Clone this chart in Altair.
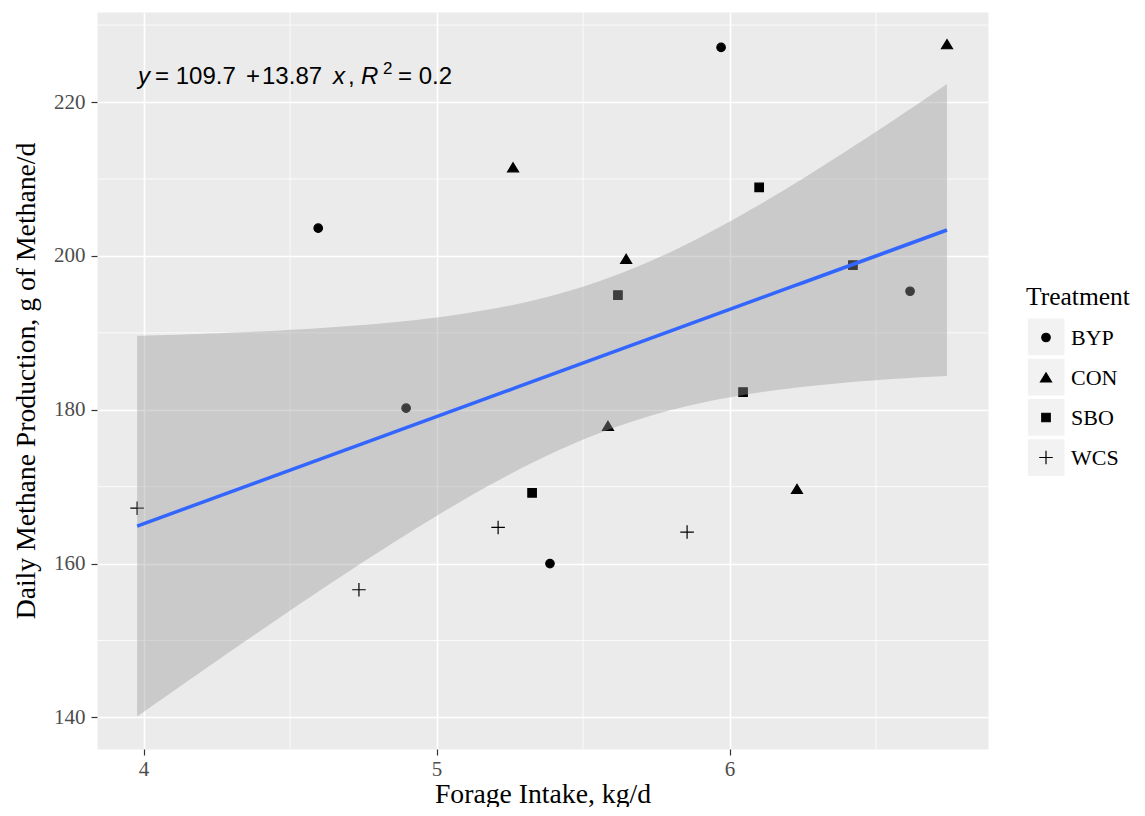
import numpy as np
import pandas as pd
import altair as alt

# ---- data ----
treatment = ["BYP"] * 5 + ["CON"] * 5 + ["SBO"] * 5 + ["WCS"] * 4
forage = [4.596, 5.971, 4.896, 5.387, 6.616,
          5.261, 5.647, 6.742, 5.585, 6.230,
          6.101, 5.619, 6.421, 6.046, 5.326,
          3.978, 4.735, 5.210, 5.855]
methane = [203.6, 227.1, 180.2, 160.0, 195.4,
           211.5, 199.6, 227.5, 177.9, 169.7,
           208.9, 194.9, 198.8, 182.3, 169.2,
           167.2, 156.6, 164.7, 164.1]
groups = ["BYP", "CON", "SBO", "WCS"]
x_ticks = [4, 5, 6]
y_ticks = [140, 160, 180, 200, 220]
x_minor = [4.5, 5.5, 6.5]
y_minor = [150, 170, 190, 210, 230]
# equation pieces: text, italic?, superscript?
eq_parts = ["y", "= 109.7", "+", "13.87", "x", ",", "R", "2", "= 0.2"]
eq_italic = [True, False, False, False, True, False, True, False, False]
eq_super = [False, False, False, False, False, False, False, True, False]

# ---- linear model with 95% confidence band (like geom_smooth(method="lm")) ----
xa = np.array(forage)
ya = np.array(methane)
n = len(xa)
slope, intercept = np.polyfit(xa, ya, 1)
resid = ya - (intercept + slope * xa)
s = np.sqrt((resid ** 2).sum() / (n - 2))
sxx = ((xa - xa.mean()) ** 2).sum()
T_CRIT = 2.109816  # t(0.975, df = 17)
xs = np.linspace(xa.min(), xa.max(), 80)
fit = intercept + slope * xs
se = s * np.sqrt(1.0 / n + (xs - xa.mean()) ** 2 / sxx)

pts = pd.DataFrame({"Forage": forage, "Methane": methane,
                    "Treatment": treatment,
                    "Key": [t.lower() for t in treatment]})
smooth = pd.DataFrame({"Forage": xs, "fit": fit,
                       "lo": fit - T_CRIT * se, "hi": fit + T_CRIT * se})

XDOM = [3.841, 6.882]
YDOM = [135.9, 231.7]
xscale = alt.Scale(domain=XDOM, nice=False, zero=False)
yscale = alt.Scale(domain=YDOM, nice=False, zero=False)

SERIF = "Liberation Serif"
x_axis = alt.Axis(values=x_ticks, format="d", title="Forage Intake, kg/d", grid=True,
                  gridColor="white", gridWidth=1.6, domain=False,
                  tickColor="#333333", tickSize=6, tickWidth=1.2,
                  labelFont=SERIF, labelFontSize=21, labelColor="#4D4D4D",
                  labelPadding=3, titleFont=SERIF, titleFontSize=27.7,
                  titleFontWeight="normal", titleColor="black",
                  titleBaseline="alphabetic", titleY=53)
y_axis = alt.Axis(values=y_ticks, format="d",
                  title="Daily Methane Production, g of Methane/d",
                  grid=True, gridColor="white", gridWidth=1.6, domain=False,
                  tickColor="#333333", tickSize=6, tickWidth=1.2,
                  labelFont=SERIF, labelFontSize=21, labelColor="#4D4D4D",
                  labelPadding=6, titleFont=SERIF, titleFontSize=27.7,
                  titleFontWeight="normal", titleColor="black",
                  titleBaseline="alphabetic", titleX=-63)

minor_x = alt.Chart(pd.DataFrame({"v": x_minor})).mark_rule(
    color="white", strokeWidth=0.8).encode(
    x=alt.X("v:Q", scale=xscale, axis=x_axis))
minor_y = alt.Chart(pd.DataFrame({"v": y_minor})).mark_rule(
    color="white", strokeWidth=0.8).encode(
    y=alt.Y("v:Q", scale=yscale, axis=y_axis))

TRI = "M0,-1.1L1.3,1.05L-1.3,1.05Z"
PLUS = "M-1.6,0L1.6,0M0,-1.6L0,1.6"

# invisible layer only used to draw the grey key boxes of the legend
boxes = alt.Chart(pts).mark_square(opacity=0, size=10).encode(
    x=alt.X("Forage:Q", scale=xscale),
    y=alt.Y("Methane:Q", scale=yscale),
    fill=alt.Fill("Key:N",
                  scale=alt.Scale(domain=[g.lower() for g in groups],
                                  range=["#F2F2F2"] * 4),
                  legend=alt.Legend(orient="none", legendX=930.7, legendY=306.3,
                                    title=None, symbolType="square",
                                    symbolSize=1347, symbolStrokeWidth=0,
                                    symbolOpacity=1, labelOpacity=0,
                                    labelFontSize=2, rowPadding=3.3,
                                    padding=0, labelExpr="''")))

points = alt.Chart(pts).mark_point(filled=True, size=72, color="black",
                                   stroke="black", strokeWidth=1.2,
                                   opacity=1).encode(
    x=alt.X("Forage:Q", scale=xscale),
    y=alt.Y("Methane:Q", scale=yscale),
    shape=alt.Shape("Treatment:N",
                    scale=alt.Scale(domain=groups,
                                    range=["circle", TRI, "square", PLUS]),
                    legend=alt.Legend(orient="none", legendX=929, legendY=273,
                                      title="Treatment", titleFont=SERIF,
                                      titleFontSize=25.5, titleFontWeight="normal",
                                      titleColor="black", titlePadding=16,
                                      labelFont=SERIF, labelFontSize=22,
                                      labelColor="black", symbolSize=72,
                                      symbolStrokeWidth=1.2, symbolOffset=9,
                                      labelOffset=14, rowPadding=18,
                                      padding=0)))

band = alt.Chart(smooth).mark_area(color="#999999", opacity=0.4).encode(
    x=alt.X("Forage:Q", scale=xscale),
    y=alt.Y("lo:Q", scale=yscale),
    y2="hi:Q")

line = alt.Chart(smooth).mark_line(color="#3366FF", strokeWidth=3.5).encode(
    x=alt.X("Forage:Q", scale=xscale),
    y=alt.Y("fit:Q", scale=yscale))

# equation annotation, assembled from pieces (italic symbols, superscript 2)
EQ_X, EQ_Y = 3.981, 222.4
eq_dx = [0, 17, 108, 124, 195, 210, 223, 245, 260]
eq_layers = []
for txt, ital, sup, dx in zip(eq_parts, eq_italic, eq_super, eq_dx):
    eq_layers.append(
        alt.Chart(pd.DataFrame({"x": [EQ_X], "y": [EQ_Y], "label": [txt]})).mark_text(
            align="left", baseline="alphabetic", font="Liberation Sans",
            fontSize=17 if sup else 24, fontStyle="italic" if ital else "normal",
            color="black", dx=dx, dy=-10 if sup else 0).encode(
            x=alt.X("x:Q", scale=xscale),
            y=alt.Y("y:Q", scale=yscale),
            text="label:N"))

chart = alt.layer(minor_x, minor_y, boxes, points, band, line, *eq_layers).properties(
    width=891, height=737,
    autosize=alt.AutoSizeParams(type="none"),
    padding={"left": 89, "top": 4, "right": 149, "bottom": 58},
).configure_view(fill="#EBEBEB", stroke="transparent")

chart.save("out.html", embed_options={"renderer": "svg", "actions": False})
